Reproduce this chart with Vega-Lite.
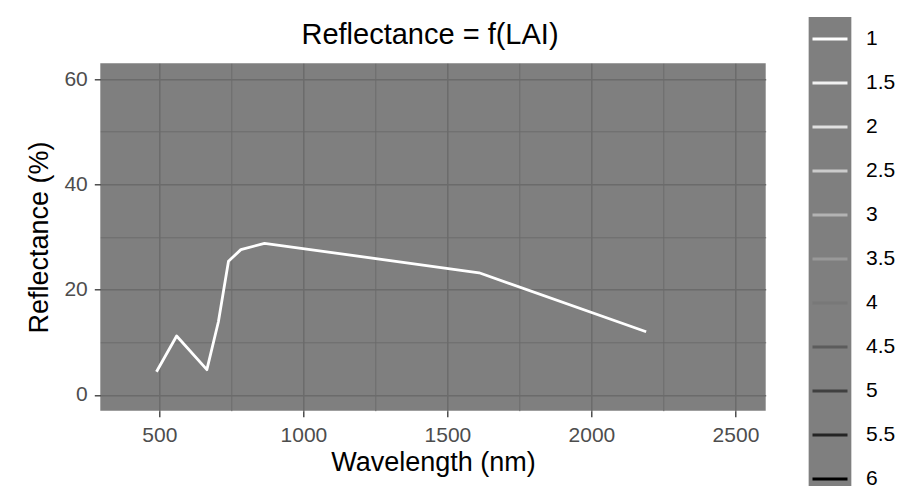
{
  "$schema": "https://vega.github.io/schema/vega-lite/v6.json",
  "autosize": {"type": "none"},
  "width": 665.4,
  "height": 347.4,
  "padding": {"left": 100.3, "top": 63.3, "right": 152.3, "bottom": 75.3},
  "background": "white",
  "title": {
    "text": "Reflectance = f(LAI)",
    "font": "Liberation Sans",
    "fontSize": 29,
    "fontWeight": "normal",
    "color": "black",
    "anchor": "middle",
    "baseline": "bottom",
    "offset": -34.2,
    "dy": 28,
    "dx": -3
  },
  "data": {
    "values": [
      {"LAI": "1", "wavelength": 490, "reflectance": 4.4},
      {"LAI": "1", "wavelength": 560, "reflectance": 11.2},
      {"LAI": "1", "wavelength": 665, "reflectance": 4.8},
      {"LAI": "1", "wavelength": 705, "reflectance": 13.9},
      {"LAI": "1", "wavelength": 740, "reflectance": 25.4},
      {"LAI": "1", "wavelength": 783, "reflectance": 27.6},
      {"LAI": "1", "wavelength": 865, "reflectance": 28.8},
      {"LAI": "1", "wavelength": 1610, "reflectance": 23.2},
      {"LAI": "1", "wavelength": 2190, "reflectance": 12.0}
    ]
  },
  "config": {
    "font": "Liberation Sans",
    "view": {"fill": "#7f7f7f", "stroke": null},
    "axis": {"domain": false}
  },
  "resolve": {"axis": {"x": "independent", "y": "independent"}},
  "layer": [
    {
      "mark": {"type": "line", "opacity": 0},
      "encoding": {
        "x": {
          "field": "wavelength", "type": "quantitative",
          "scale": {"domain": [295, 2605], "nice": false, "zero": false},
          "axis": {"orient": "bottom", "values": [250, 750, 1250, 1750, 2250], "grid": true, "gridColor": "#6b6b6b", "gridWidth": 1, "labels": false, "ticks": false, "domain": false, "title": null}
        },
        "y": {
          "field": "reflectance", "type": "quantitative",
          "scale": {"domain": [-3, 63], "nice": false, "zero": false},
          "axis": {"orient": "left", "values": [10, 30, 50], "grid": true, "gridColor": "#6b6b6b", "gridWidth": 1, "labels": false, "ticks": false, "domain": false, "title": null}
        }
      }
    },
    {
      "mark": {"type": "line", "strokeWidth": 2.8, "strokeJoin": "round", "strokeCap": "butt"},
      "encoding": {
        "x": {
          "field": "wavelength", "type": "quantitative",
          "axis": {
            "orient": "bottom",
            "values": [500, 1000, 1500, 2000, 2500],
            "format": "d",
            "grid": true, "gridColor": "#6b6b6b", "gridWidth": 1.4,
            "ticks": true, "tickColor": "#333333", "tickSize": 6, "tickWidth": 1.3,
            "labelFontSize": 21, "labelColor": "#4d4d4d", "labelPadding": 8,
            "title": "Wavelength (nm)", "titleFontSize": 27, "titleFontWeight": "normal", "titleColor": "black", "titlePadding": 4
          }
        },
        "y": {
          "field": "reflectance", "type": "quantitative",
          "axis": {
            "orient": "left",
            "values": [0, 20, 40, 60],
            "format": "d",
            "grid": true, "gridColor": "#6b6b6b", "gridWidth": 1.4,
            "ticks": true, "tickColor": "#333333", "tickSize": 6, "tickWidth": 1.3,
            "labelFontSize": 21, "labelColor": "#4d4d4d", "labelPadding": 7,
            "title": "Reflectance (%)", "titleFontSize": 27, "titleFontWeight": "normal", "titleColor": "black", "titlePadding": 10
          }
        },
        "color": {
          "field": "LAI", "type": "nominal",
          "scale": {
            "domain": ["1", "1.5", "2", "2.5", "3", "3.5", "4", "4.5", "5", "5.5", "6"],
            "range": ["#ffffff", "#f1f1f1", "#e0e0e0", "#cbcbcb", "#b3b3b3", "#999999", "#787878", "#5c5c5c", "#404040", "#242424", "#000000"]
          },
          "legend": {
            "orient": "none",
            "legendX": 706.7,
            "legendY": -46.3,
            "title": null,
            "padding": 0,
            "symbolType": "M-0.82,0H0.82H1V-1.08H-1V1.08H1V0Z",
            "symbolSize": 1823,
            "symbolStrokeWidth": 3,
            "symbolDash": [35, 1000],
            "symbolFillColor": "#7f7f7f",
            "symbolOpacity": 1,
            "clipHeight": 44,
            "rowPadding": 0,
            "labelFontSize": 21,
            "labelColor": "black",
            "labelOffset": 13,
            "labelLimit": 100,
            "encode": {
              "symbols": {"update": {"fill": {"value": "#7f7f7f"}, "strokeDash": {"value": [35, 1000]}, "opacity": {"value": 1}}}
            }
          }
        }
      }
    }
  ]
}
